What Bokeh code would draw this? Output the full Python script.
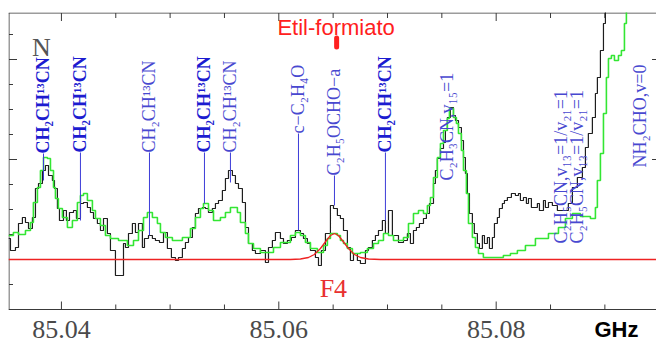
import math
from bokeh.plotting import figure
from bokeh.models import Range1d, Label
from bokeh.embed import file_html
from bokeh.resources import INLINE

# ---------------- data (frequency in MHz, intensity in arbitrary units) ----------------
obs_freq = [
    85035.13, 85035.31, 85035.77, 85036.05, 85036.41, 85036.69, 85036.97, 85037.33, 85037.61, 85037.89,
    85038.25, 85038.53, 85038.81, 85039.17, 85039.36, 85039.63, 85039.82, 85040.19, 85040.46, 85040.74,
    85041.11, 85041.38, 85041.75, 85042.03, 85042.39, 85042.67, 85042.95, 85043.31, 85043.59, 85043.87,
    85044.23, 85044.51, 85044.97, 85045.71, 85045.89, 85046.17, 85046.53, 85046.81, 85047.09, 85047.45,
    85047.64, 85048.01, 85048.37, 85048.65, 85049.02, 85049.39, 85049.75, 85050.12, 85050.49, 85050.77,
    85051.13, 85051.41, 85051.69, 85052.05, 85052.33, 85052.61, 85052.97, 85053.25, 85053.53, 85053.89,
    85054.17, 85054.45, 85054.81, 85055.09, 85055.37, 85055.73, 85056.01, 85056.29, 85056.65, 85056.93,
    85057.21, 85057.57, 85057.85, 85058.31, 85058.77, 85059.05, 85059.41, 85059.69, 85060.15, 85060.43,
    85060.79, 85061.16, 85061.53, 85061.99, 85062.27, 85062.63, 85062.91, 85063.37, 85063.65, 85063.92,
    85064.29, 85064.75, 85065.03, 85065.39, 85065.67, 85065.95, 85066.31, 85066.59, 85066.87, 85067.23,
    85067.51, 85067.97, 85068.25, 85068.61, 85068.89, 85069.17, 85069.53, 85069.81, 85070.09, 85070.45,
    85071.01, 85071.47, 85071.83, 85072.11, 85072.39, 85072.66, 85072.94, 85073.31, 85073.58, 85073.86,
    85074.23, 85074.41, 85074.59, 85074.87, 85075.15, 85075.33, 85075.51, 85075.79, 85076.07, 85076.25,
    85076.53, 85076.80, 85076.99, 85077.17, 85077.35, 85077.54, 85077.81, 85077.99, 85078.27, 85078.46,
    85078.73, 85078.92, 85079.19, 85079.38, 85079.65, 85079.84, 85080.11, 85080.30, 85080.57, 85080.76,
    85081.03, 85081.40, 85081.77, 85082.05, 85082.23, 85082.51, 85082.78, 85082.97, 85083.24, 85083.79,
    85083.98, 85084.35, 85084.53, 85084.81, 85085.17, 85085.63, 85086.64, 85087.01, 85087.47, 85087.93,
    85088.21, 85088.48, 85088.85, 85089.13, 85089.31, 85089.59, 85089.87, 85090.05, 85094.75,
]
obs_int = [
    0.84, 0.36, 0.48, 1.44, 1.68, 1.48, 1.24, 1.68, 2.84, 3.04,
    3.56, 3.76, 3.36, 3.16, 2.84, 2.04, 1.56, 1.96, 1.56, 1.88,
    1.96, 1.64, 2.24, 2.28, 2.08, 1.88, 1.64, 1.44, 1.16, 1.64,
    1.04, 0.36, -0.64, 0.64, 0.48, 1.04, 1.44, 1.08, 1.44, 0.48,
    0.84, 0.96, 0.84, 0.76, 0.68, 1.08, 0.44, 0.08, -0.04, 0.08,
    0.44, 0.68, 0.88, 1.28, 1.84, 2.04, 2.08, 2.04, 1.88, 2.04,
    2.24, 2.36, 2.76, 3.24, 3.56, 3.36, 3.04, 2.84, 2.28, 1.28,
    0.64, 0.36, 0.24, 0.36, -0.12, 0.48, 0.76, 1.08, 0.84, 0.64,
    0.76, 0.88, 1.16, 1.04, 0.84, 0.64, 0.36, 0.08, -0.24, 0.36,
    1.04, 2.16, 2.04, 1.76, 1.64, 1.16, 0.48, -0.04, 0.24, -0.04,
    -0.16, 0.36, 0.48, 0.76, 0.96, 1.16, 1.56, 1.04, 1.96, 0.96,
    0.68, 0.76, 1.04, 0.64, 1.16, 1.28, 1.44, 1.64, 1.84, 2.24,
    3.04, 3.56, 4.04, 4.44, 4.68, 5.16, 5.68, 6.08, 5.76, 5.56,
    5.28, 4.76, 4.08, 3.44, 2.64, 1.84, 1.44, 1.04, 0.64, 0.44,
    0.96, 0.64, 0.88, 0.44, 0.88, 1.44, 1.68, 2.04, 2.24, 2.36,
    2.48, 2.64, 2.56, 2.64, 2.36, 2.48, 2.24, 2.44, 2.08, 2.24,
    1.96, 2.36, 2.08, 2.28, 2.16, 1.96, 2.24, 2.88, 3.28, 3.68,
    4.48, 5.04, 5.68, 6.64, 7.28, 8.36, 9.44, 11.2, 11.2,
]

model_freq = [
    85035.13, 85035.58, 85036.05, 85036.69, 85037.15, 85037.42, 85037.79, 85038.07, 85038.35, 85038.71,
    85038.99, 85039.27, 85039.45, 85039.72, 85040.09, 85040.55, 85041.01, 85041.47, 85041.75, 85042.03,
    85042.39, 85042.85, 85043.13, 85043.59, 85044.05, 85044.51, 85045.25, 85046.07, 85046.63, 85047.09,
    85047.55, 85047.91, 85048.37, 85048.83, 85049.11, 85049.57, 85050.21, 85051.13, 85051.87, 85052.33,
    85052.79, 85053.07, 85053.53, 85053.99, 85054.63, 85055.09, 85055.55, 85056.19, 85056.47, 85056.93,
    85057.21, 85057.67, 85058.31, 85059.51, 85060.15, 85061.07, 85061.53, 85061.99, 85062.45, 85062.91,
    85063.55, 85064.11, 85064.47, 85064.75, 85065.39, 85065.67, 85065.95, 85066.31, 85066.77, 85067.51,
    85068.15, 85068.71, 85069.17, 85069.63, 85070.09, 85070.55, 85071.47, 85071.93, 85072.39, 85072.85,
    85073.31, 85073.67, 85073.95, 85074.23, 85074.59, 85074.87, 85075.15, 85075.51, 85075.70, 85076.07,
    85076.34, 85076.53, 85076.80, 85076.99, 85077.26, 85077.45, 85077.81, 85078.09, 85078.37, 85078.82,
    85080.66, 85081.31, 85081.95, 85082.69, 85083.61, 85084.81, 85085.73, 85086.37, 85087.01, 85087.75,
    85088.67, 85089.13, 85089.31, 85089.59, 85089.87, 85090.14, 85090.33, 85090.60, 85090.88, 85091.25,
    85091.52, 85091.80, 85091.98, 85094.75,
]
model_int = [
    0.96, 1.08, 1.00, 1.16, 1.48, 2.28, 2.88, 3.56, 4.08, 4.04,
    3.56, 2.88, 2.44, 2.04, 1.68, 1.28, 1.56, 2.28, 2.56, 2.64,
    2.36, 1.96, 1.64, 1.36, 0.96, 0.84, 0.76, 0.56, 0.76, 1.16,
    1.68, 1.88, 1.68, 1.44, 1.08, 0.88, 0.76, 0.88, 1.24, 1.68,
    2.04, 2.24, 1.96, 1.56, 1.68, 1.88, 2.08, 1.88, 1.48, 1.04,
    0.64, 0.44, 0.28, 0.48, 0.68, 0.96, 1.08, 0.96, 0.68, 0.44,
    0.28, 0.56, 0.84, 1.04, 0.96, 0.76, 0.64, 0.44, 0.24, 0.28,
    0.44, 0.64, 0.76, 1.04, 0.96, 0.76, 0.88, 1.44, 1.84, 1.96,
    1.84, 2.16, 2.48, 3.28, 4.08, 4.64, 5.16, 5.64, 6.04, 5.68,
    5.44, 5.04, 4.36, 3.56, 2.64, 1.44, 0.88, 0.48, 0.24, 0.08,
    0.16, 0.24, 0.36, 0.56, 0.84, 1.04, 1.28, 1.64, 1.84, 1.72,
    1.64, 2.08, 3.16, 4.24, 5.84, 7.28, 8.04, 8.16, 7.96, 8.16,
    8.36, 9.44, 11.2, 11.2,
]

ef_freq = [85035.13, 85061.07, 85061.99, 85062.73, 85063.27, 85063.83, 85064.38, 85064.75, 85065.12,
           85065.49, 85065.85, 85066.41, 85066.96, 85067.51, 85068.25, 85069.35, 85094.75]
ef_int = [0.0, 0.0, 0.02, 0.08, 0.2, 0.44, 0.76, 0.96, 1.04,
          0.96, 0.76, 0.44, 0.2, 0.08, 0.02, 0.0, 0.0]

line_names = ["CH₂CH¹³CN", "CH₂CH¹³CN", "CH₂CH¹³CN", "CH₂CH¹³CN", "CH₂CH¹³CN",
              "c−C₂H₄O", "C₂H₅OCHO−a", "CH₂CH¹³CN", "C₂H₃CN,v₁₅=1",
              "C₂H₅CN,v₁₃=1/v₂₁=1", "C₂H₅CN,v₁₃=1/v₂₁=1", "NH₂CHO,v=0"]
line_freq = [85038.35, 85041.75, 85048.10, 85053.16, 85055.55, 85061.81, 85065.12, 85069.81,
             85075.51, 85086.00, 85087.47, 85093.27]
line_bold = [True, True, False, True, False, False, False, True, False, False, False, False]
line_low = [3.16, 1.56, 0.96, 2.24, 3.08, 1.16, 2.16, 1.56, None, None, None, None]
label_start = [4.24, 4.28, 4.28, 4.28, 4.28, 5.04, 3.36, 4.28, 3.16, 0.64, 0.64, 3.68]

x_major = [85040, 85060, 85080]
x_major_labels = ["85.04", "85.06", "85.08"]
x_minor = [85035, 85045, 85050, 85055, 85065, 85070, 85075, 85085, 85090]
y_major = [0, 4, 8]
y_minor = [-1, 1, 2, 3, 5, 6, 7, 9]

molecule = "Etil-formiato"
component = "F4"
ef_center = 85065.12
unit_label = "GHz"

# ---------------- figure ----------------
X0, X1 = 85035.13, 85094.75
Y0, Y1 = -3.44, 9.88
Y_AXIS = -2.0          # level of the frequency axis
PX_X = (X1 - X0) / 648.0
PX_Y = (Y1 - Y0) / 333.0

p = figure(width=656, height=345, output_backend="svg", toolbar_location=None,
           x_range=Range1d(X0, X1), y_range=Range1d(Y0, Y1),
           x_axis_location=None, y_axis_location=None,
           min_border_left=8, min_border_right=0, min_border_top=12, min_border_bottom=0)
p.outline_line_color = None
p.xgrid.visible = False
p.ygrid.visible = False
p.background_fill_color = "white"
p.border_fill_color = "white"

AX = "#3a3a3a"
xl = X0 + 0.5 * PX_X
xr = X1 - 0.5 * PX_X
yt = Y1 - 0.5 * PX_Y
# frame lines (bottom, top, left)
p.segment(x0=[X0, X0, xl], y0=[Y_AXIS, yt, Y_AXIS], x1=[X1, X1, xl], y1=[Y_AXIS, yt, yt],
          line_color=AX, line_width=1)
# x ticks (bottom and top, pointing inward)
p.segment(x0=x_major, y0=[Y_AXIS] * 3, x1=x_major, y1=[Y_AXIS + 8 * PX_Y] * 3, line_color=AX)
p.segment(x0=x_minor, y0=[Y_AXIS] * len(x_minor), x1=x_minor,
          y1=[Y_AXIS + 5 * PX_Y] * len(x_minor), line_color=AX)
p.segment(x0=x_major, y0=[yt] * 3, x1=x_major, y1=[yt - 8 * PX_Y] * 3, line_color=AX)
p.segment(x0=x_minor, y0=[yt] * len(x_minor), x1=x_minor,
          y1=[yt - 5 * PX_Y] * len(x_minor), line_color=AX)
# y ticks (left side, and the right side cut by the image edge)
p.segment(x0=[xl] * len(y_major), y0=y_major, x1=[xl + 8 * PX_X] * len(y_major), y1=y_major,
          line_color=AX)
p.segment(x0=[xl] * len(y_minor), y0=y_minor, x1=[xl + 4 * PX_X] * len(y_minor), y1=y_minor,
          line_color=AX)
p.segment(x0=[xr] * 2, y0=y_major[1:], x1=[xr - 4 * PX_X] * 2, y1=y_major[1:], line_color=AX)

# spectra
p.step(obs_freq, obs_int, mode="after", line_color="#1e1e1e", line_width=1.2)
p.step(model_freq, model_int, mode="after", line_color="#33e633", line_width=1.6)
p.line(ef_freq, ef_int, line_color="#ee2222", line_width=1.3)

# line markers
seg_x = [f for f, lo in zip(line_freq, line_low) if lo is not None]
seg_y0 = [lo for lo in line_low if lo is not None]
seg_y1 = [s for s, lo in zip(label_start, line_low) if lo is not None]
p.segment(x0=seg_x, y0=seg_y0, x1=seg_x, y1=seg_y1, line_color="#3c3cd8", line_width=1)

for name, f, b, s in zip(line_names, line_freq, line_bold, label_start):
    p.add_layout(Label(x=f, y=s, text=name, angle=math.pi / 2,
                       text_align="left", text_baseline="middle",
                       text_font="Liberation Serif", text_font_size="18px",
                       text_font_style="bold" if b else "normal",
                       text_color="#1c1cd0" if b else "#4848d0"))

# ghost "N"
p.add_layout(Label(x=85038.15, y=8.48, text="N", text_align="center", text_baseline="middle",
                   text_font="Liberation Serif", text_font_size="26px", text_color="#555555"))

# Etil-formiato annotation
p.add_layout(Label(x=ef_center + 0.15, y=9.28, text=molecule, text_align="center",
                   text_baseline="middle", text_font="Liberation Sans", text_font_size="22px",
                   text_color="#ff2020"))
p.segment(x0=[ef_center + 0.2], y0=[8.5], x1=[ef_center + 0.2], y1=[8.86],
          line_color="#ff2020", line_width=5, line_cap="round")
p.add_layout(Label(x=ef_center - 0.1, y=-1.16, text=component, text_align="center",
                   text_baseline="middle", text_font="Liberation Serif", text_font_size="26px",
                   text_color="#e83030"))

# tick labels and unit
for t, lab in zip(x_major, x_major_labels):
    p.add_layout(Label(x=t, y=-2.8, text=lab, text_align="center", text_baseline="middle",
                       text_font="Liberation Serif", text_font_size="26px", text_color="#4a4a4a"))
p.add_layout(Label(x=85091.06, y=-2.8, text=unit_label, text_align="center", text_baseline="middle",
                   text_font="Liberation Sans", text_font_size="22px", text_font_style="bold",
                   text_color="#000000"))

open("out.html", "w").write(file_html(p, INLINE))
